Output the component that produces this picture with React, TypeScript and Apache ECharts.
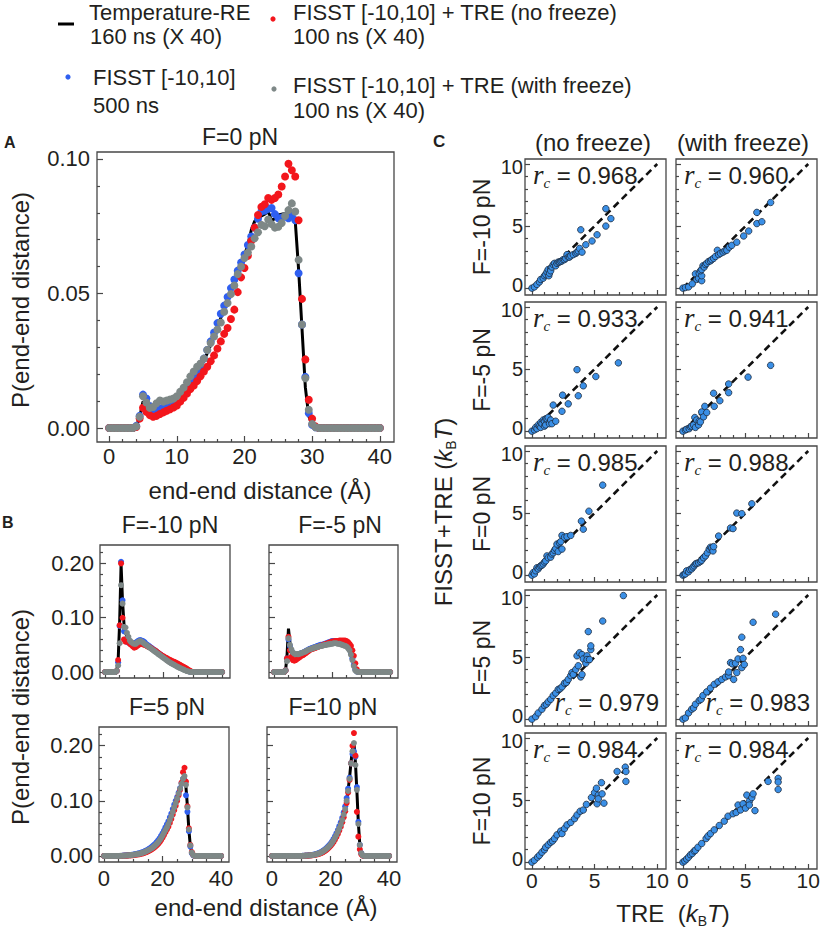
import React, { useEffect, useRef } from "react";
import * as echarts from "echarts";

const FONT = "Liberation Sans, Arial, sans-serif";
const SERIF = "Liberation Serif, DejaVu Serif, serif";
const INK = "#231f20";
const FRAME = "#474747";
const C_TRE = "#000000";
const C_FISST = "#2f5ff0";
const C_NOFREEZE = "#f3161c";
const C_FREEZE = "#7e8887";
const C_SCATTER = "#3a8fe6";

// bin centres of the end-end distance histogram (Å)
const distance = Array.from({ length: 81 }, (_, i) => i * 0.5);

// ---------- Panel A : F = 0 pN ----------
const treA = [
  0,0,0,0,0,0,0,0,0.0005,0.004,
  0.0098,0.0088,0.0074,0.0071,0.0073,0.0076,0.008,0.0083,0.0086,0.009,
  0.0096,0.0108,0.0124,0.0143,0.0163,0.0184,0.0205,0.0227,0.025,0.0278,
  0.0308,0.034,0.0374,0.041,0.0445,0.048,0.0513,0.0546,0.058,0.061,
  0.0642,0.068,0.0735,0.0768,0.078,0.0788,0.0795,0.0805,0.0772,0.0778,
  0.0792,0.0795,0.0798,0.0803,0.0805,0.077,0.059,0.037,0.015,0.0045,
  0.001,0.0002,0,0,0,0,0,0,0,0,
  0,0,0,0,0,0,0,0,0,0,
  0,
];
const fisstA = [
  0,0,0,0,0,0,0,0,0.0008,0.0045,
  0.0124,0.011,0.0082,0.0066,0.0068,0.0072,0.0076,0.008,0.0083,0.0087,
  0.0093,0.0108,0.0125,0.0145,0.0165,0.0188,0.021,0.0232,0.0258,0.029,
  0.0322,0.0355,0.039,0.0425,0.0455,0.0487,0.052,0.0552,0.0585,0.0615,
  0.0645,0.068,0.0712,0.0745,0.0778,0.0805,0.0808,0.0815,0.0818,0.0795,
  0.078,0.0782,0.0786,0.078,0.0788,0.0772,0.0575,0.0385,0.019,0.0055,
  0.0012,0.0003,0,0,0,0,0,0,0,0,
  0,0,0,0,0,0,0,0,0,0,
  0,
];
const noFreezeA = [
  0,0,0,0,0,0,0,0,0.0004,0.0035,
  0.0075,0.006,0.0048,0.0042,0.0045,0.0052,0.0058,0.0064,0.007,0.0076,
  0.0084,0.0098,0.0112,0.0128,0.0145,0.0158,0.0175,0.0192,0.021,0.0228,
  0.0248,0.027,0.0295,0.0322,0.035,0.0372,0.0405,0.044,0.0505,0.056,
  0.0595,0.064,0.0695,0.0745,0.0792,0.0822,0.0832,0.0855,0.0848,0.0855,
  0.0868,0.0898,0.0935,0.0982,0.0958,0.0935,0.0772,0.048,0.0255,0.0105,
  0.0035,0.0006,0,0,0,0,0,0,0,0,
  0,0,0,0,0,0,0,0,0,0,
  0,
];
const withFreezeA = [
  0,0,0,0,0,0,0,0,0.0006,0.0042,
  0.0118,0.0095,0.0075,0.0078,0.0092,0.0102,0.0098,0.0102,0.0106,0.011,
  0.0118,0.0135,0.015,0.017,0.0192,0.021,0.0228,0.024,0.0258,0.029,
  0.0316,0.034,0.0366,0.0392,0.0432,0.0465,0.0498,0.053,0.0572,0.06,
  0.0632,0.0652,0.0675,0.0705,0.0728,0.0755,0.075,0.0775,0.0758,0.0745,
  0.0748,0.0762,0.0788,0.081,0.0835,0.0805,0.0625,0.0385,0.0185,0.0068,
  0.0015,0.0003,0,0,0,0,0,0,0,0,
  0,0,0,0,0,0,0,0,0,0,
  0,
];

// ---------- Panel B : F = -10 pN ----------
const treM10 = [
  0,0,0,0,0,0,0,0,0.002,0.022,
  0.09,0.198,0.13,0.088,0.072,0.066,0.062,0.058,0.055,0.053,
  0.052,0.053,0.055,0.057,0.058,0.057,0.055,0.053,0.05,0.048,
  0.047,0.0455,0.044,0.042,0.04,0.038,0.036,0.034,0.032,0.0305,
  0.029,0.027,0.025,0.023,0.021,0.0195,0.018,0.0165,0.015,0.0135,
  0.012,0.0105,0.009,0.0078,0.0065,0.0052,0.004,0.0025,0.0012,0.0004,
  0,0,0,0,0,0,0,0,0,0,
  0,0,0,0,0,0,0,0,0,0,
  0,
];
const fisstM10 = [
  0,0,0,0,0,0,0,0,0.002,0.018,
  0.085,0.203,0.132,0.075,0.06,0.056,0.054,0.053,0.052,0.052,
  0.053,0.054,0.056,0.058,0.059,0.058,0.057,0.055,0.052,0.05,
  0.048,0.046,0.044,0.042,0.04,0.038,0.036,0.034,0.032,0.03,
  0.028,0.026,0.024,0.022,0.02,0.0185,0.017,0.0155,0.014,0.0125,
  0.011,0.0095,0.008,0.0068,0.0055,0.0042,0.003,0.0018,0.0008,0.0002,
  0,0,0,0,0,0,0,0,0,0,
  0,0,0,0,0,0,0,0,0,0,
  0,
];
const noFreezeM10 = [
  0,0,0,0,0,0,0,0,0.002,0.022,
  0.086,0.2,0.1,0.06,0.056,0.057,0.055,0.052,0.05,0.047,
  0.045,0.046,0.048,0.05,0.052,0.052,0.051,0.05,0.049,0.047,
  0.046,0.045,0.043,0.041,0.04,0.038,0.036,0.034,0.032,0.03,
  0.029,0.027,0.026,0.024,0.023,0.0215,0.02,0.019,0.018,0.0165,
  0.015,0.0135,0.012,0.0105,0.009,0.0075,0.006,0.0042,0.0025,0.001,
  0,0,0,0,0,0,0,0,0,0,
  0,0,0,0,0,0,0,0,0,0,
  0,
];
const withFreezeM10 = [
  0,0,0,0,0,0,0,0,0.002,0.012,
  0.053,0.16,0.126,0.083,0.082,0.072,0.065,0.058,0.055,0.053,
  0.052,0.052,0.054,0.056,0.057,0.056,0.054,0.052,0.05,0.048,
  0.046,0.044,0.042,0.04,0.038,0.036,0.034,0.032,0.03,0.028,
  0.026,0.024,0.022,0.02,0.018,0.0165,0.015,0.0135,0.012,0.0105,
  0.009,0.0078,0.0065,0.0052,0.004,0.0028,0.0018,0.001,0.0004,0.0001,
  0,0,0,0,0,0,0,0,0,0,
  0,0,0,0,0,0,0,0,0,0,
  0,
];

// ---------- Panel B : F = -5 pN ----------
const treM5 = [
  0,0,0,0,0,0,0,0,0.003,0.03,
  0.08,0.055,0.04,0.034,0.032,0.031,0.031,0.032,0.033,0.034,
  0.035,0.036,0.038,0.039,0.041,0.042,0.043,0.044,0.045,0.046,
  0.047,0.048,0.048,0.049,0.05,0.051,0.052,0.052,0.053,0.054,
  0.054,0.055,0.056,0.056,0.056,0.055,0.055,0.054,0.053,0.052,
  0.05,0.047,0.043,0.036,0.026,0.014,0.005,0.0015,0.0003,0,
  0,0,0,0,0,0,0,0,0,0,
  0,0,0,0,0,0,0,0,0,0,
  0,
];
const fisstM5 = [
  0,0,0,0,0,0,0,0,0.003,0.025,
  0.06,0.048,0.04,0.035,0.033,0.032,0.032,0.033,0.034,0.035,
  0.036,0.037,0.039,0.04,0.042,0.043,0.044,0.045,0.046,0.047,
  0.048,0.049,0.05,0.05,0.051,0.052,0.053,0.054,0.055,0.056,
  0.057,0.057,0.057,0.056,0.056,0.055,0.054,0.054,0.053,0.052,
  0.05,0.047,0.042,0.035,0.025,0.013,0.005,0.0012,0.0002,0,
  0,0,0,0,0,0,0,0,0,0,
  0,0,0,0,0,0,0,0,0,0,
  0,
];
const noFreezeM5 = [
  0,0,0,0,0,0,0,0,0.003,0.025,
  0.065,0.04,0.028,0.022,0.021,0.022,0.024,0.026,0.028,0.03,
  0.031,0.033,0.035,0.037,0.039,0.041,0.042,0.043,0.044,0.045,
  0.046,0.047,0.048,0.049,0.05,0.051,0.052,0.053,0.054,0.055,
  0.056,0.056,0.057,0.057,0.057,0.058,0.058,0.058,0.058,0.058,
  0.057,0.055,0.052,0.048,0.04,0.03,0.016,0.005,0.001,0,
  0,0,0,0,0,0,0,0,0,0,
  0,0,0,0,0,0,0,0,0,0,
  0,
];
const withFreezeM5 = [
  0,0,0,0,0,0,0,0,0.003,0.02,
  0.062,0.05,0.042,0.036,0.034,0.033,0.033,0.033,0.034,0.035,
  0.036,0.037,0.038,0.04,0.041,0.042,0.043,0.044,0.045,0.046,
  0.046,0.047,0.048,0.048,0.049,0.05,0.05,0.051,0.051,0.052,
  0.052,0.053,0.053,0.053,0.052,0.052,0.051,0.05,0.049,0.048,
  0.047,0.044,0.04,0.032,0.022,0.011,0.003,0.0008,0.0001,0,
  0,0,0,0,0,0,0,0,0,0,
  0,0,0,0,0,0,0,0,0,0,
  0,
];

// ---------- Panel B : F = 5 pN ----------
const treP5 = [
  0,0,0,0,0,0,0,0,0,0,
  0,0,0,0.0005,0.0006,0.0008,0.001,0.0012,0.0015,0.0018,
  0.0022,0.0026,0.003,0.0035,0.004,0.0047,0.0055,0.0064,0.0074,0.0086,
  0.01,0.0115,0.0132,0.015,0.017,0.0195,0.022,0.025,0.029,0.033,
  0.038,0.043,0.048,0.0535,0.059,0.066,0.073,0.081,0.089,0.097,
  0.105,0.114,0.123,0.133,0.142,0.146,0.125,0.09,0.047,0.018,
  0.006,0.0015,0,0,0,0,0,0,0,0,
  0,0,0,0,0,0,0,0,0,0,
  0,
];
const fisstP5 = [
  0,0,0,0,0,0,0,0,0,0,
  0,0,0,0.0006,0.0008,0.001,0.0012,0.0015,0.0018,0.0022,
  0.0026,0.003,0.0036,0.0042,0.0048,0.0056,0.0065,0.0076,0.0088,0.01,
  0.0115,0.0132,0.015,0.0172,0.0195,0.022,0.025,0.0285,0.032,0.0365,
  0.041,0.046,0.052,0.0575,0.063,0.07,0.077,0.085,0.093,0.1,
  0.107,0.115,0.123,0.132,0.14,0.137,0.11,0.08,0.045,0.017,
  0.005,0.0012,0,0,0,0,0,0,0,0,
  0,0,0,0,0,0,0,0,0,0,
  0,
];
const noFreezeP5 = [
  0,0,0,0,0,0,0,0,0,0,
  0,0,0,0.0003,0.0004,0.0005,0.0006,0.0008,0.001,0.0012,
  0.0015,0.0018,0.0022,0.0026,0.003,0.0036,0.0043,0.0051,0.006,0.007,
  0.0082,0.0095,0.011,0.0127,0.0145,0.0167,0.019,0.0218,0.025,0.0288,
  0.033,0.0378,0.043,0.048,0.053,0.06,0.067,0.075,0.083,0.091,
  0.1,0.11,0.12,0.133,0.152,0.16,0.135,0.09,0.05,0.02,
  0.007,0.002,0,0,0,0,0,0,0,0,
  0,0,0,0,0,0,0,0,0,0,
  0,
];
const withFreezeP5 = [
  0,0,0,0,0,0,0,0,0,0,
  0,0.0002,0.0004,0.0005,0.0006,0.0008,0.001,0.0012,0.0015,0.0018,
  0.0022,0.0026,0.003,0.0035,0.004,0.0047,0.0055,0.0064,0.0074,0.0086,
  0.01,0.0114,0.013,0.0148,0.0168,0.0192,0.0218,0.0248,0.0285,0.0325,
  0.037,0.042,0.047,0.052,0.058,0.065,0.072,0.08,0.088,0.096,
  0.104,0.113,0.122,0.131,0.14,0.145,0.129,0.088,0.048,0.019,
  0.006,0.0015,0,0,0,0,0,0,0,0,
  0,0,0,0,0,0,0,0,0,0,
  0,
];

// ---------- Panel B : F = 10 pN ----------
const treP10 = [
  0,0,0,0,0,0,0,0,0,0,
  0,0,0,0,0,0,0,0,0,0,
  0,0.0002,0.0004,0.0006,0.0008,0.0009,0.001,0.0013,0.0018,0.0023,
  0.003,0.0037,0.0045,0.0056,0.007,0.0086,0.0105,0.0126,0.015,0.0176,
  0.0205,0.024,0.028,0.033,0.038,0.044,0.05,0.057,0.065,0.075,
  0.086,0.101,0.12,0.142,0.17,0.195,0.205,0.17,0.118,0.06,
  0.02,0.005,0.001,0,0,0,0,0,0,0,
  0,0,0,0,0,0,0,0,0,0,
  0,
];
const fisstP10 = [
  0,0,0,0,0,0,0,0,0,0,
  0,0,0,0,0,0,0,0,0,0,
  0,0.0003,0.0005,0.0007,0.0009,0.001,0.0012,0.0016,0.0021,0.0027,
  0.0035,0.0043,0.0052,0.0064,0.0079,0.0096,0.0116,0.014,0.0165,0.0193,
  0.0225,0.026,0.0305,0.0355,0.041,0.047,0.054,0.061,0.069,0.079,
  0.09,0.105,0.122,0.142,0.168,0.185,0.19,0.18,0.125,0.062,
  0.02,0.005,0.001,0,0,0,0,0,0,0,
  0,0,0,0,0,0,0,0,0,0,
  0,
];
const noFreezeP10 = [
  0,0,0,0,0,0,0,0,0,0,
  0,0,0,0,0,0,0,0,0,0,
  0,0,0.0002,0.0004,0.0005,0.0006,0.0008,0.001,0.0014,0.0018,
  0.0023,0.0029,0.0036,0.0045,0.0056,0.007,0.0086,0.0105,0.0128,0.0153,
  0.018,0.0212,0.025,0.0295,0.0345,0.04,0.046,0.053,0.061,0.07,
  0.081,0.096,0.115,0.138,0.168,0.2,0.223,0.182,0.08,0.035,
  0.012,0.003,0.0005,0,0,0,0,0,0,0,
  0,0,0,0,0,0,0,0,0,0,
  0,
];
const withFreezeP10 = [
  0,0,0,0,0,0,0,0,0,0,
  0,0,0,0,0,0,0,0,0,0,
  0,0.0002,0.0004,0.0006,0.0008,0.0009,0.001,0.0013,0.0018,0.0023,
  0.003,0.0037,0.0045,0.0056,0.007,0.0086,0.0105,0.0126,0.015,0.0176,
  0.0205,0.024,0.028,0.033,0.038,0.044,0.05,0.057,0.065,0.075,
  0.085,0.1,0.118,0.14,0.168,0.19,0.205,0.165,0.12,0.058,
  0.02,0.005,0.001,0,0,0,0,0,0,0,
  0,0,0,0,0,0,0,0,0,0,
  0,
];

// ---------- Panel C : free energies, [TRE, FISST+TRE] (kBT) ----------
const cNoFreezeM10 = [[0,0],[0.2,0.1],[0.4,0.3],[0.6,0.5],[0.7,0.7],[0.9,0.8],[1.0,1.0],[1.1,1.1],[1.2,1.3],[1.35,1.0],[1.3,1.5],[1.4,1.2],[1.5,1.6],[1.5,1.4],[1.6,1.7],[1.7,1.9],[1.8,2.0],[1.9,1.8],[2.0,2.0],[2.1,2.1],[2.2,2.1],[2.3,2.15],[2.4,2.2],[2.5,2.3],[2.6,2.3],[2.7,2.4],[2.8,2.7],[2.9,2.5],[3.0,2.5],[3.1,2.6],[3.3,2.7],[3.5,2.8],[3.6,2.9],[3.7,3.0],[3.8,3.2],[4.0,2.9],[3.9,4.7],[4.3,3.5],[4.8,3.8],[5.2,4.3],[5.9,5.0],[5.9,6.4],[6.3,5.6]];
const cWithFreezeM10 = [[0,0],[0.2,0.05],[0.45,0.1],[0.75,0.35],[1.0,1.15],[1.1,0.7],[1.25,0.8],[1.5,0.6],[1.3,1.2],[1.5,1.0],[1.4,1.4],[1.5,1.5],[1.6,1.8],[1.7,1.7],[1.8,1.9],[1.9,2.0],[2.05,2.15],[2.2,2.2],[2.3,2.3],[2.45,2.4],[2.6,2.55],[2.75,3.05],[2.85,2.7],[3.0,2.8],[3.2,2.9],[3.35,3.0],[3.5,3.05],[3.7,3.3],[3.9,3.45],[4.3,3.7],[4.85,4.2],[5.25,4.6],[5.9,5.2],[5.9,6.1],[6.3,5.35],[7.0,6.9]];
const cNoFreezeM5 = [[0,0],[0.2,0.1],[0.3,0.3],[0.4,0.2],[0.5,0.5],[0.6,0.4],[0.7,0.3],[0.7,0.7],[0.8,0.6],[0.9,0.9],[1.0,0.8],[1.0,0.4],[1.1,0.5],[1.1,1.0],[1.2,1.0],[1.3,1.1],[1.4,0.6],[1.5,0.9],[1.6,0.6],[1.9,0.8],[1.7,2.1],[2.4,1.6],[2.45,2.9],[2.9,2.2],[3.6,4.95],[3.7,2.85],[4.1,3.65],[5.1,4.4],[6.9,5.5]];
const cWithFreezeM5 = [[0,0],[0.2,0.1],[0.3,0.15],[0.5,0.2],[0.6,0.35],[0.7,0.4],[0.85,0.5],[0.95,1.1],[1.0,0.3],[1.1,0.9],[1.25,0.5],[1.3,0.8],[1.4,0.75],[1.5,1.55],[1.65,1.15],[1.75,2.0],[1.9,1.5],[2.5,2.0],[2.45,3.05],[2.95,2.45],[3.65,3.8],[3.65,3.1],[5.2,4.35],[7.0,5.3]];
const cNoFreeze0 = [[0,0],[0.1,0.2],[0.2,0.1],[0.3,0.35],[0.4,0.6],[0.5,0.5],[0.6,0.65],[0.7,0.75],[0.8,0.8],[0.9,0.9],[1.0,1.05],[1.1,1.15],[1.2,1.55],[1.3,1.4],[1.5,1.45],[1.6,1.7],[1.7,1.8],[1.8,2.0],[1.9,2.15],[2.0,2.5],[2.1,1.9],[2.2,2.6],[2.3,2.7],[2.4,2.1],[2.4,3.2],[2.6,3.05],[2.8,3.1],[3.1,3.2],[3.95,4.35],[4.1,3.7],[4.55,5.15],[5.65,7.25]];
const cWithFreeze0 = [[0,0],[0.1,0.05],[0.2,0.1],[0.3,0.35],[0.45,0.27],[0.55,0.45],[0.7,0.5],[0.8,0.65],[0.9,0.75],[1.0,0.9],[1.1,0.95],[1.25,1.0],[1.4,1.1],[1.5,1.2],[1.65,1.4],[1.8,1.55],[1.95,1.8],[2.1,2.1],[2.2,2.25],[2.3,2.2],[2.4,1.95],[2.45,2.3],[2.85,3.15],[3.8,3.8],[4.0,3.75],[4.3,5.0],[4.7,4.95],[5.5,5.75]];
const cNoFreezeP5 = [[0,0],[0.3,0.2],[0.5,0.5],[0.8,0.8],[1.0,1.1],[1.15,1.2],[1.3,1.4],[1.5,1.6],[1.7,1.9],[1.9,2.1],[2.1,2.4],[2.25,2.45],[2.4,2.6],[2.6,2.9],[2.75,2.95],[2.9,3.2],[3.1,3.5],[3.2,3.75],[3.3,3.6],[3.5,4.0],[3.6,5.1],[3.7,4.3],[3.8,5.35],[3.9,3.4],[4.0,5.2],[4.0,3.6],[4.1,4.85],[4.3,4.5],[4.4,5.1],[4.4,4.8],[4.6,4.8],[4.7,5.6],[4.7,5.9],[4.5,7.05],[5.65,7.9],[7.3,9.95]];
const cWithFreezeP5 = [[0,0],[0.2,0.1],[0.45,0.5],[0.7,0.8],[0.85,0.9],[1.0,1.2],[1.3,1.5],[1.45,1.6],[1.6,1.9],[1.9,2.2],[2.2,2.5],[2.5,2.8],[2.8,3.0],[3.1,3.2],[3.4,3.4],[3.65,3.5],[3.65,3.8],[3.8,4.55],[3.95,4.45],[4.05,3.2],[4.2,4.5],[4.3,3.75],[4.4,4.85],[4.6,5.6],[4.7,6.6],[4.7,4.15],[4.8,4.9],[4.9,4.4],[5.6,7.8],[7.4,8.45]];
const cNoFreezeP10 = [[0,0],[0.2,0.15],[0.45,0.4],[0.6,0.55],[0.8,0.8],[1.0,1.0],[1.1,1.2],[1.3,1.4],[1.5,1.6],[1.65,1.7],[1.8,1.9],[2.0,2.2],[2.3,2.5],[2.4,2.3],[2.6,2.7],[2.8,3.0],[3.1,3.2],[3.4,3.5],[3.6,3.8],[3.85,4.1],[4.1,4.2],[4.35,4.65],[4.75,5.2],[5.0,5.6],[5.15,5.95],[5.2,4.7],[5.3,5.4],[5.3,5.1],[5.55,6.4],[5.6,5.5],[5.75,4.75],[6.8,7.3],[7.45,7.65],[7.5,7.3],[7.5,6.5]];
const cWithFreezeP10 = [[0,0],[0.15,0.1],[0.3,0.25],[0.45,0.4],[0.6,0.6],[0.75,0.7],[0.9,0.9],[1.0,0.95],[1.2,1.2],[1.5,1.5],[1.85,1.9],[2.0,2.1],[2.2,2.3],[2.5,2.6],[2.9,2.95],[3.3,3.3],[3.6,3.7],[4.0,3.9],[4.25,4.0],[4.4,4.6],[4.6,4.2],[4.8,4.7],[5.0,4.35],[5.1,5.4],[5.3,4.9],[5.3,4.6],[5.5,5.2],[5.6,5.5],[5.75,4.15],[6.8,6.5],[7.6,6.75],[7.6,6.45],[7.6,5.85]];

const forceLabels = ["F=-10 pN", "F=-5 pN", "F=0 pN", "F=5 pN", "F=10 pN"];
const rcNoFreeze = [0.968, 0.933, 0.985, 0.979, 0.984];
const rcWithFreeze = [0.96, 0.941, 0.988, 0.983, 0.984];
const cNoFreeze = [cNoFreezeM10, cNoFreezeM5, cNoFreeze0, cNoFreezeP5, cNoFreezeP10];
const cWithFreeze = [cWithFreezeM10, cWithFreezeM5, cWithFreeze0, cWithFreezeP5, cWithFreezeP10];
const diagonal = [[0, 0], [10, 10]];

// tick positions
const aXMajor = [0, 10, 20, 30, 40];
const aXMinor = [2, 4, 6, 8, 12, 14, 16, 18, 22, 24, 26, 28, 32, 34, 36, 38];
const aYMajor = [0, 0.05, 0.1];
const aYMinor = [0.01, 0.02, 0.03, 0.04, 0.06, 0.07, 0.08, 0.09];
const bXMajor = [0, 20, 40];
const bXMinor = [5, 10, 15, 25, 30, 35];
const bYMajor = [0, 0.1, 0.2];
const bYMinor = [0.02, 0.04, 0.06, 0.08, 0.12, 0.14, 0.16, 0.18, 0.22];
const cMajor = [0, 5, 10];
const cMinor = [1, 2, 3, 4, 6, 7, 8, 9];

function buildOption() {
  const grid: any[] = [];
  const xAxis: any[] = [];
  const yAxis: any[] = [];
  const series: any[] = [];
  const graphic: any[] = [];

  const tickAxis = (
    list: any[], gridIndex: number, position: string, min: number, max: number,
    ticks: number[], len: number, labels: number[] | null,
    fmt: (v: number) => string, fontSize: number, margin: number, rich?: any
  ) => {
    list.push({
      gridIndex, type: "value", position, min, max,
      axisLine: { show: false, onZero: false },
      splitLine: { show: false },
      axisPointer: { show: false },
      axisTick: { show: true, inside: true, length: len, customValues: ticks, lineStyle: { color: FRAME, width: 1.2 } },
      axisLabel: labels
        ? { show: true, customValues: labels, formatter: fmt, fontFamily: FONT, fontSize, color: INK, margin, rich }
        : { show: false },
    });
    return list.length - 1;
  };

  const addGrid = (left: number, top: number, width: number, height: number) => {
    grid.push({ left, top, width, height, show: true, borderColor: FRAME, borderWidth: 1.3, backgroundColor: "transparent", containLabel: false, outerBoundsMode: "none" });
    return grid.length - 1;
  };

  const distPanel = (
    box: number[], xr: number[], yr: number[], big: boolean,
    xLabels: number[] | null, yLabels: number[] | null,
    tre: number[], fisst: number[], noFreeze: number[], withFreeze: number[]
  ) => {
    const g = addGrid(box[0], box[1], box[2], box[3]);
    const fs = 22;
    const xi = tickAxis(xAxis, g, "bottom", xr[0], xr[1], big ? aXMajor : bXMajor, 6, xLabels, (v) => String(v), fs, big ? 3 : 5);
    tickAxis(xAxis, g, "bottom", xr[0], xr[1], big ? aXMinor : bXMinor, 3, null, (v) => String(v), fs, 3);
    const yi = tickAxis(yAxis, g, "left", yr[0], yr[1], big ? aYMajor : bYMajor, 6, yLabels, (v) => v.toFixed(2), fs, big ? 7 : 6);
    tickAxis(yAxis, g, "left", yr[0], yr[1], big ? aYMinor : bYMinor, 3, null, (v) => v.toFixed(2), fs, 6);
    const dot = big ? 8 : 6;
    series.push({
      type: "line", xAxisIndex: xi, yAxisIndex: yi, silent: true,
      data: distance.map((x, i) => [x, tre[i]]),
      showSymbol: false, symbol: "none", smooth: false,
      lineStyle: { color: C_TRE, width: 3 }, z: 2,
    });
    const sets: [number[], string][] = [[fisst, C_FISST], [noFreeze, C_NOFREEZE], [withFreeze, C_FREEZE]];
    sets.forEach(([d, col], k) => {
      series.push({
        type: "scatter", xAxisIndex: xi, yAxisIndex: yi, silent: true,
        data: distance.map((x, i) => [x, d[i]]),
        symbol: "circle", symbolSize: dot, itemStyle: { color: col, opacity: 1 }, z: 3 + k,
      });
    });
  };

  function text(x: number, y: number, s: string, size: number, o: any = {}) {
    return {
      type: "text", silent: true, x, y, rotation: o.rot ? Math.PI / 2 : 0,
      style: {
        text: s, fontSize: size, fontFamily: FONT, fontWeight: o.bold ? "bold" : "normal",
        fill: INK, textAlign: o.align || "center", textVerticalAlign: "middle",
        lineHeight: o.lh, rich: o.rich,
      },
    };
  }

  // Panel A
  distPanel([97, 152, 297, 290], [-1.8, 42.1], [-0.0052, 0.1026], true, aXMajor, aYMajor, treA, fisstA, noFreezeA, withFreezeA);
  // Panel B
  const bx = [-1.7, 42.7];
  const by = [-0.011, 0.234];
  distPanel([100, 545, 130, 133], bx, by, false, null, bYMajor, treM10, fisstM10, noFreezeM10, withFreezeM10);
  distPanel([269, 545, 129, 133], bx, by, false, null, null, treM5, fisstM5, noFreezeM5, withFreezeM5);
  distPanel([99, 727, 130, 135], bx, by, false, bXMajor, bYMajor, treP5, fisstP5, noFreezeP5, withFreezeP5);
  distPanel([267, 727, 130, 135], bx, by, false, bXMajor, null, treP10, fisstP10, noFreezeP10, withFreezeP10);

  // Panel C
  const cTops = [159, 302, 446, 590, 733];
  const cLefts = [525, 676];
  const cW = 141, cH = 136;
  const cYRich = {
    hi: { fontFamily: FONT, fontSize: 20, color: INK, padding: [6, 0, 0, 0] },
    mid: { fontFamily: FONT, fontSize: 20, color: INK },
    lo: { fontFamily: FONT, fontSize: 20, color: INK, padding: [0, 0, 6, 0] },
  };
  const cYFmt = (v: number) => (v === 10 ? `{hi|${v}}` : v === 0 ? `{lo|${v}}` : `{mid|${v}}`);
  for (let r = 0; r < 5; r++) {
    for (let c = 0; c < 2; c++) {
      const left = cLefts[c], top = cTops[r];
      const g = addGrid(left, top, cW, cH);
      const xi = tickAxis(xAxis, g, "bottom", -0.55, 10.7, cMajor, 5, r === 4 ? cMajor : null, (v) => String(v), 21, 1);
      tickAxis(xAxis, g, "bottom", -0.55, 10.7, cMinor, 3, null, (v) => String(v), 21, 1);
      const yi = tickAxis(yAxis, g, "left", -0.55, 10.4, cMajor, 5, c === 0 ? cMajor : null, cYFmt, 20, 2, cYRich);
      tickAxis(yAxis, g, "left", -0.55, 10.4, cMinor, 3, null, (v) => String(v), 20, 2);
      series.push({
        type: "line", xAxisIndex: xi, yAxisIndex: yi, silent: true, data: diagonal,
        showSymbol: false, symbol: "none", lineStyle: { color: "#111", width: 2.6, type: [7, 4.5] }, z: 2,
      });
      series.push({
        type: "scatter", xAxisIndex: xi, yAxisIndex: yi, silent: true,
        data: c === 0 ? cNoFreeze[r] : cWithFreeze[r],
        symbol: "circle", symbolSize: 6.5,
        itemStyle: { color: C_SCATTER, borderColor: "#1d2b3d", borderWidth: 0.8, opacity: 1 }, z: 3,
      });
      const val = (c === 0 ? rcNoFreeze[r] : rcWithFreeze[r]).toFixed(3);
      const bottomCorner = r === 3;
      graphic.push({
        type: "text", silent: true,
        x: bottomCorner ? left + 134 : left + 8,
        y: bottomCorner ? top + 112 : top + 16,
        style: {
          text: `{r|r}{c|c}{t| = ${val}}`,
          textAlign: bottomCorner ? "right" : "left", textVerticalAlign: "middle", lineHeight: 30,
          fill: INK, fontFamily: FONT, fontSize: 24,
          rich: {
            r: { fontFamily: SERIF, fontStyle: "italic", fontSize: 27, fill: INK, lineHeight: 30 },
            c: { fontFamily: SERIF, fontStyle: "italic", fontSize: 15, fill: INK, lineHeight: 10, verticalAlign: "bottom" },
            t: { fontFamily: FONT, fontSize: 24, fill: INK, lineHeight: 30 },
          },
        },
      });
    }
    graphic.push(text(482, cTops[r] + cH / 2, forceLabels[r], 23, { rot: true }));
  }

  const kbtRich = {
    i: { fontFamily: FONT, fontStyle: "italic", fontSize: 24, fill: INK, lineHeight: 30 },
    s: { fontFamily: FONT, fontSize: 14, fill: INK, lineHeight: 14, verticalAlign: "bottom" },
    n: { fontFamily: FONT, fontSize: 24, fill: INK, lineHeight: 30 },
  };

  graphic.push(
    // panel letters
    text(4, 142, "A", 16, { bold: true, align: "left" }),
    text(2, 522, "B", 16, { bold: true, align: "left" }),
    text(433, 141, "C", 17, { bold: true, align: "left" }),
    // panel A
    text(240, 137, "F=0 pN", 23),
    text(260, 490, "end-end distance (Å)", 24),
    text(20, 300, "P(end-end distance)", 24, { rot: true }),
    // panel B
    text(170, 525, "F=-10 pN", 23),
    text(340, 525, "F=-5 pN", 23),
    text(167, 707, "F=5 pN", 23),
    text(333, 707, "F=10 pN", 23),
    text(266, 907, "end-end distance (Å)", 24),
    text(20, 717, "P(end-end distance)", 24, { rot: true }),
    // panel C
    text(593, 142, "(no freeze)", 24),
    text(743, 142, "(with freeze)", 24),
    text(443, 512, "{n|FISST+TRE (}{i|k}{s|B}{i|T}{n|)}", 24, { rot: true, lh: 30, rich: kbtRich }),
    text(673, 913, "{n|TRE  (}{i|k}{s|B}{i|T}{n|)}", 24, { lh: 30, rich: kbtRich }),
    // legend
    { type: "line", silent: true, shape: { x1: 58, y1: 24, x2: 74, y2: 24 }, style: { stroke: C_TRE, lineWidth: 3 } },
    { type: "circle", silent: true, shape: { cx: 68, cy: 77, r: 2.6 }, style: { fill: C_FISST } },
    { type: "circle", silent: true, shape: { cx: 273, cy: 19, r: 2.6 }, style: { fill: C_NOFREEZE } },
    { type: "circle", silent: true, shape: { cx: 274, cy: 89, r: 2.6 }, style: { fill: C_FREEZE } },
    text(89, 12, "Temperature-RE", 22, { align: "left" }),
    text(90, 36, "160 ns (X 40)", 22, { align: "left" }),
    text(93, 77, "FISST [-10,10]", 22, { align: "left" }),
    text(93, 105, "500 ns", 22, { align: "left" }),
    text(293, 12, "FISST [-10,10] + TRE (no freeze)", 22, { align: "left" }),
    text(293, 36, "100 ns (X 40)", 22, { align: "left" }),
    text(293, 85, "FISST [-10,10] + TRE (with freeze)", 22, { align: "left" }),
    text(293, 110, "100 ns (X 40)", 22, { align: "left" }),
  );

  return {
    animation: false,
    backgroundColor: "#ffffff",
    grid, xAxis, yAxis, series, graphic,
  };
}

export default function App() {
  const ref = useRef<HTMLDivElement>(null);
  useEffect(() => {
    if (!ref.current) return;
    const chart = echarts.init(ref.current, null, { renderer: "svg" });
    chart.setOption(buildOption() as any);
    return () => chart.dispose();
  }, []);
  return (
    <div
      ref={ref}
      style={{ position: "fixed", left: 0, top: 0, width: 827, height: 929, background: "#fff" }}
    />
  );
}
